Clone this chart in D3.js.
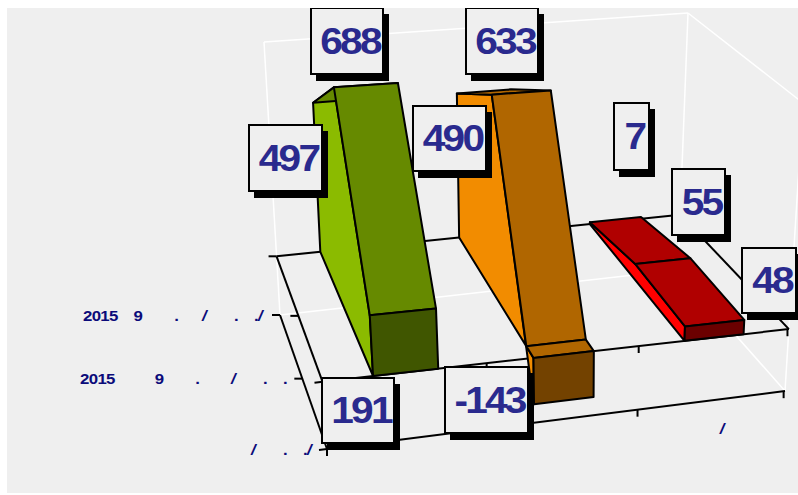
<!DOCTYPE html>
<html><head><meta charset="utf-8">
<script src="https://cdn.jsdelivr.net/npm/d3@7/dist/d3.min.js"></script>
<style>html,body{margin:0;padding:0;background:#fff}svg{display:block}
text{font-family:"Liberation Sans",Arial,sans-serif;font-weight:bold;white-space:pre}</style>
</head><body><svg id="c" width="798" height="495"></svg>
<script>
// ---- data ----
const categories = ["A", "B", "C"];
const rows = ["front", "middle", "back"];
const frontValues  = [191, -143, 48];
const middleValues = [688, 633, 55];
const backValues   = [497, 490, 7];
const rowLabels = ["2015    9        .      /       .    ./", "2015          9        .        /       .    .", "/       .    ./"];
const categoryLabel = "/";
const valueDomain = [-200, 700];

// ---- layout ----
const boxCorners = {
  lower: {fl:[327,449], fr:[785,391], bl:[280,315], br:[678,270]},
  upper: {fl:[306,136], fr:[803,103], bl:[264,42],  br:[688,13]}
};
const catPos = d3.scaleLinear().domain([0,1,2,3]).range([0,.352,.678,.997]);
const rowPos = d3.scaleLinear().domain([0,1,2]).range([0,.525,1]);
const zPos = d3.scaleLinear().domain([-200,0,200,700]).range([0,.215,.42,1]);
const barFrom = .308, barTo = .705;
const colours = [
  {side:"#8bbb00", top:"#668a00", front:"#405600"},
  {side:"#f28c00", top:"#b06600", front:"#734200"},
  {side:"#ff0000", top:"#b00000", front:"#6b0000"}
];
const labelColour = "#2a2a8e";
const rowsData = [frontValues, middleValues, backValues];
const labelBoxes = [
  [[322,378,394,443],[445,367,528,433],[742,248,796,313]],
  [[311,8,383,74],[466,8,538,74],[672,169,725,235]],
  [[249,125,322,191],[413,106,486,171],[614,103,649,170]]
];
const rowLabelAnchors = [[262,320.5],[287,383.5],[311,455]];

const lerp = (a,b,t)=>[a[0]+(b[0]-a[0])*t, a[1]+(b[1]-a[1])*t];
function planePoint(pl,u,v){ return lerp(lerp(pl.fl,pl.fr,u), lerp(pl.bl,pl.br,u), v); }
function project(u,v,val){ return lerp(planePoint(boxCorners.lower,u,v), planePoint(boxCorners.upper,u,v), zPos(val)); }

const svg = d3.select("#c");
svg.append("rect").attr("x",7).attr("y",8).attr("width",791).attr("height",485).attr("fill","#efefef");
const line = d3.line();
function seg(pts,stroke,w){ return svg.append("path").attr("d",line(pts)).attr("fill","none").attr("stroke",stroke).attr("stroke-width",w); }

const [zMin,zMax] = valueDomain;
[[[0,1,zMin],[0,1,zMax]],[[0,1,zMax],[1,1,zMax]],[[1,1,zMax],[1,1,zMin]],[[0,1,zMin],[1,1,zMin]],
 [[1,1,zMax],[1,0,zMax]],[[1,0,zMax],[1,0,zMin]],[[1,1,zMin],[1,0,zMin]]]
 .forEach(([a,b])=>seg([project(...a),project(...b)],"#fff",1.5));

[[[0,1,0],[1,1,0]],[[1,1,0],[1,0,0]],[[1,0,0],[0,0,0]],[[0,0,0],[0,1,0]],
 [[0,0,zMin],[1,0,zMin]],[[0,0,zMin],[0,1,zMin]]]
 .forEach(([a,b])=>seg([project(...a),project(...b)],"#000",2));

[0,1,2].forEach(r=>{[0,zMin].forEach(z=>{
  const p=project(0,rowPos(r),z);
  seg([[p[0]-8,p[1]+(r==0?1:0)],[p[0],p[1]]],"#000",2);
});});
[0,1,2,3].forEach(c=>{[0,zMin].forEach(z=>{
  const p=project(catPos(c),0,z);
  seg([p,[p[0],p[1]+7]],"#000",2);
});});

categories.forEach((cat,i)=>{
  const u0=catPos(i+barFrom), u1=catPos(i+barTo), col=colours[i];
  const vals=rowsData.map(r=>r[i]);
  const poly=(pts,fill)=>svg.append("path").attr("d",line(pts)+"Z").attr("fill",fill).attr("stroke","#000").attr("stroke-width",2).attr("stroke-linejoin","round");
  const side=[];
  vals.forEach((v,r)=>side.push(project(u0,rowPos(r),v)));
  side.push(project(u0,rowPos(2),0),project(u0,rowPos(0),0));
  poly(side,col.side);
  for(let r=1;r>=0;r--){
    const a=vals[r],b=vals[r+1],va=rowPos(r),vb=rowPos(r+1);
    if(a<0&&b>=0){
      const t=-a/(b-a), vc=va+(vb-va)*t;
      poly([project(u0,vc,0),project(u1,vc,0),project(u1,vb,b),project(u0,vb,b)],col.top);
      poly([project(u0,va,0),project(u1,va,0),project(u1,vc,0),project(u0,vc,0)],col.top);
    } else {
      poly([project(u0,va,a),project(u1,va,a),project(u1,vb,b),project(u0,vb,b)],col.top);
    }
  }
  poly([project(u0,0,0),project(u1,0,0),project(u1,0,vals[0]),project(u0,0,vals[0])],col.front);
});

rowLabels.forEach((t,i)=>{
  const txt=svg.append("text").attr("transform",`translate(${rowLabelAnchors[i][0]},${rowLabelAnchors[i][1]}) scale(1.12,1)`)
   .attr("text-anchor","end").attr("font-size",15).attr("letter-spacing",-0.6).attr("fill","#0b0b7a");
  t.split(/(\/)/).forEach(part=>{ if(part) txt.append("tspan").attr("font-style",part==="/"?"italic":"normal").text(part); });
});
svg.append("text").attr("transform","translate(722,434) scale(1.12,1)").attr("text-anchor","middle").attr("font-size",15).attr("font-style","italic").attr("fill","#0b0b7a").text(categoryLabel);

rowsData.forEach((vals,r)=>vals.forEach((v,i)=>{
  const [x0,y0,x1,y1]=labelBoxes[r][i];
  svg.append("rect").attr("x",x0+5).attr("y",y0+6).attr("width",x1-x0+1).attr("height",y1-y0+1).attr("fill","#000");
  svg.append("rect").attr("x",x0).attr("y",y0).attr("width",x1-x0).attr("height",y1-y0).attr("fill","#efefef").attr("stroke","#000").attr("stroke-width",2);
  svg.append("text").attr("transform",`translate(${(x0+x1)/2+3},${(y0+y1)/2+12.5}) scale(1.13,1)`).attr("text-anchor","middle")
    .attr("font-size",36).attr("letter-spacing",-2.5).attr("fill",labelColour).text(v);
}));
svg.append("rect").attr("x",0).attr("y",0).attr("width",798).attr("height",8).attr("fill","#fff");
</script></body></html>
